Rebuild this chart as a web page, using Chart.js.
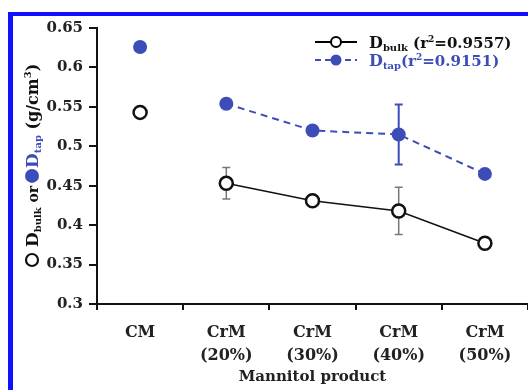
<!DOCTYPE html>
<html>
<head>
<meta charset="utf-8">
<script src="https://cdn.jsdelivr.net/npm/chart.js@4.4.1/dist/chart.umd.min.js"></script>
<style>
  html, body { margin: 0; padding: 0; background: #fff; }
  #wrap { position: relative; width: 528px; height: 390px; }
</style>
</head>
<body>
<div id="wrap"><canvas id="density-chart" width="528" height="390"></canvas></div>
<script>
// Mannitol products on the x axis
const categories = ['CM', ['CrM', '(20%)'], ['CrM', '(30%)'], ['CrM', '(40%)'], ['CrM', '(50%)']];

// Bulk and tapped density (g/cm3)
const bulkDensity = [0.543, 0.453, 0.431, 0.418, 0.377];
const tapDensity = [0.626, 0.554, 0.520, 0.515, 0.465];

// error bar half-heights
const bulkError = [0, 0.020, 0, 0.030, 0];
const tapError = [0, 0, 0, 0.038, 0];

// y axis range
const yMin = 0.3;
const yMax = 0.65;
const yStep = 0.05;

const BLUE = '#3d4db7';
const SERIF = '"DejaVu Serif", serif';

// no line from CM to the first CrM point
const skipFirst = (color) => (c) => c.p0DataIndex === 0 ? 'rgba(0,0,0,0)' : color;

// blue frame on top and left of the picture
const framePlugin = {
    id: 'frame',
    beforeDraw(chart) {
        const c = chart.ctx;
        c.save();
        c.fillStyle = '#1010ff';
        c.fillRect(8, 12, 520, 4);
        c.fillRect(8, 12, 5, 378);
        c.restore();
    }
};

// vertical error bars with caps
const errorBarPlugin = {
    id: 'errorBars',
    beforeDatasetsDraw(chart) {
        const c = chart.ctx;
        const y = chart.scales.y;
        const sets = [[0, bulkError, '#777', 1.5], [1, tapError, BLUE, 2]];
        c.save();
        sets.forEach(([idx, errs, color, w]) => {
            const meta = chart.getDatasetMeta(idx);
            const vals = chart.data.datasets[idx].data;
            errs.forEach((e, j) => {
                if (!e) return;
                const x = meta.data[j].x;
                const top = y.getPixelForValue(vals[j] + e);
                const bot = y.getPixelForValue(vals[j] - e);
                c.strokeStyle = color;
                c.lineWidth = w;
                c.beginPath();
                c.moveTo(x, top); c.lineTo(x, bot);
                c.moveTo(x - 4, top); c.lineTo(x + 4, top);
                c.moveTo(x - 4, bot); c.lineTo(x + 4, bot);
                c.stroke();
            });
        });
        c.restore();
    }
};

// draws runs of [text, font, color, baselineShift] left to right
function drawRuns(c, runs, x, y) {
    runs.forEach(([t, f, col, dy]) => {
        c.font = f;
        c.fillStyle = col;
        c.fillText(t, x, y + dy);
        x += c.measureText(t).width;
    });
    return x;
}

// legend and y title (need subscripts, so drawn by hand)
const labelsPlugin = {
    id: 'labels',
    afterDraw(chart) {
        const c = chart.ctx;
        c.save();
        c.textBaseline = 'alphabetic';

        // legend row 1
        c.strokeStyle = '#000';
        c.lineWidth = 2;
        c.beginPath(); c.moveTo(315, 42); c.lineTo(357, 42); c.stroke();
        c.fillStyle = '#fff';
        c.beginPath(); c.arc(336, 42, 5, 0, Math.PI * 2); c.fill(); c.stroke();
        drawRuns(c, [
            ['D', 'bold 16px ' + SERIF, '#111', 0],
            ['bulk', 'bold 10px ' + SERIF, '#111', 3],
            [' (r', 'bold 15px ' + SERIF, '#111', 0],
            ['2', 'bold 9px ' + SERIF, '#111', -6],
            ['=0.9557)', 'bold 15px ' + SERIF, '#111', 0]
        ], 369, 48);

        // legend row 2
        c.strokeStyle = BLUE;
        c.setLineDash([6, 4]);
        c.beginPath(); c.moveTo(315, 60); c.lineTo(357, 60); c.stroke();
        c.setLineDash([]);
        c.fillStyle = BLUE;
        c.beginPath(); c.arc(336, 60, 5.5, 0, Math.PI * 2); c.fill();
        drawRuns(c, [
            ['D', 'bold 16px ' + SERIF, BLUE, 0],
            ['tap', 'bold 10px ' + SERIF, BLUE, 3],
            ['(r', 'bold 15px ' + SERIF, BLUE, 0],
            ['2', 'bold 9px ' + SERIF, BLUE, -6],
            ['=0.9151)', 'bold 15px ' + SERIF, BLUE, 0]
        ], 369, 66);

        // y axis title, rotated
        c.translate(38, 267);
        c.rotate(-Math.PI / 2);
        c.strokeStyle = '#111';
        c.lineWidth = 2.2;
        c.beginPath(); c.arc(7, -6, 6, 0, Math.PI * 2); c.stroke();
        let x = drawRuns(c, [
            [' D', 'bold 17px ' + SERIF, '#111', 0],
            ['bulk', 'bold 10px ' + SERIF, '#111', 3],
            [' or ', 'bold 14px ' + SERIF, '#111', 0]
        ], 14, 0);
        c.fillStyle = BLUE;
        c.beginPath(); c.arc(x + 5, -6, 7, 0, Math.PI * 2); c.fill();
        x = drawRuns(c, [
            ['D', 'bold 17px ' + SERIF, BLUE, 0],
            ['tap', 'bold 10px ' + SERIF, BLUE, 3],
            [' (g/cm', 'bold 16px ' + SERIF, '#111', 0],
            ['3', 'bold 10px ' + SERIF, '#111', -7],
            [')', 'bold 16px ' + SERIF, '#111', 0]
        ], x + 13, 0);
        c.restore();
    }
};

const ctx = document.getElementById('density-chart');
const densityChart = new Chart(ctx, {
    type: 'line',
    data: {
        labels: categories,
        datasets: [{
            label: 'D bulk',
            data: bulkDensity,
            borderColor: '#111',
            borderWidth: 1.5,
            pointRadius: 6.5,
            pointBorderWidth: 2.5,
            pointBackgroundColor: '#fff',
            pointBorderColor: '#111',
            segment: { borderColor: skipFirst('#111') }
        }, {
            label: 'D tap',
            data: tapDensity,
            borderColor: BLUE,
            borderWidth: 2,
            borderDash: [7, 5],
            pointRadius: 7,
            pointBorderWidth: 0,
            pointBackgroundColor: BLUE,
            segment: { borderColor: skipFirst(BLUE) }
        }]
    },
    options: {
        responsive: false,
        animation: false,
        devicePixelRatio: 1,
        layout: { autoPadding: false, padding: { left: 0, top: 28, right: 0, bottom: 0 } },
        plugins: {
            legend: { display: false },
            tooltip: { enabled: false }
        },
        scales: {
            x: {
                offset: true,
                border: { display: true, color: '#111', width: 2 },
                grid: { offset: true, drawOnChartArea: false, tickLength: 6, color: '#111', lineWidth: 2 },
                ticks: {
                    color: '#222',
                    maxRotation: 0,
                    padding: 12,
                    font: { family: SERIF, size: 16, weight: 'bold', lineHeight: 1.4 }
                },
                title: {
                    display: true,
                    text: 'Mannitol product',
                    color: '#222',
                    font: { family: SERIF, size: 15, weight: 'bold' },
                    padding: { top: 0, bottom: 4 }
                },
                afterFit(s) {
                    s.height = 86;
                    s.paddingLeft = 0;
                    s.paddingRight = 0;
                }
            },
            y: {
                min: yMin,
                max: yMax,
                border: { display: true, color: '#111', width: 2 },
                grid: { drawOnChartArea: false, tickLength: 8, color: '#111', lineWidth: 2 },
                ticks: {
                    stepSize: yStep,
                    color: '#222',
                    padding: 6,
                    font: { family: SERIF, size: 15, weight: 'bold' },
                    callback: (v) => String(Number(v.toFixed(2)))
                },
                afterFit(s) { s.width = 97; }
            }
        }
    },
    plugins: [framePlugin, errorBarPlugin, labelsPlugin]
});
</script>
</body>
</html>
